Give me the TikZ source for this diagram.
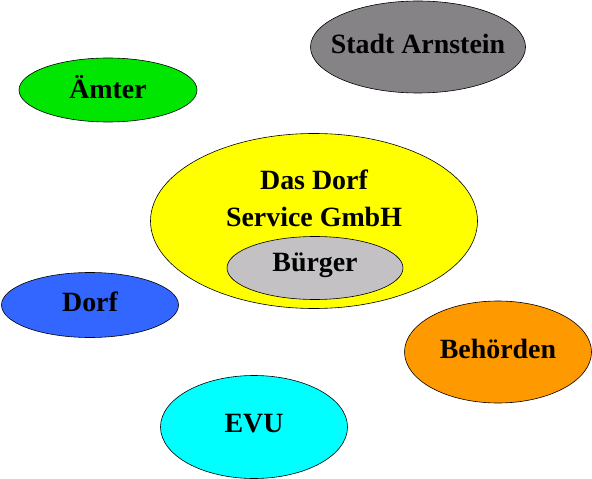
\documentclass[tikz,border=0pt]{standalone}
\usepackage{fontspec}
\setmainfont{Liberation Serif}
\usetikzlibrary{shapes.geometric}
\definecolor{amt}{HTML}{00E600}
\definecolor{stadt}{HTML}{858385}
\definecolor{firma}{HTML}{FFFF00}
\definecolor{buerger}{HTML}{C3C1C4}
\definecolor{dorf}{HTML}{3366FF}
\definecolor{behoerde}{HTML}{FF9900}
\definecolor{evu}{HTML}{00FFFF}

\begin{document}
\begin{tikzpicture}[
  x=1bp, y=-1bp,
  blob/.style={ellipse, draw, line width=0.6pt, inner sep=0pt},
  txt/.style={font=\fontsize{28}{37}\selectfont\bfseries, align=center, inner sep=0pt},
  lbl/.style={txt, yshift=3bp}
]
\useasboundingbox (0,0) rectangle (592,479);
\node[blob, fill=stadt, minimum width=215bp, minimum height=92bp, label={[lbl]center:Stadt Arnstein}] (stadt) at (418,47) {};
\node[blob, fill=amt, minimum width=178bp, minimum height=64bp, label={[lbl]center:Ämter}] (aemter) at (108,90) {};
\node[blob, fill=firma, minimum width=327bp, minimum height=175bp] (gmbh) at (314,221) {};
\node[txt] (gmbhtxt) at (314,198) {Das Dorf\\Service GmbH};
\node[blob, fill=buerger, minimum width=176bp, minimum height=63bp, label={[lbl]center:Bürger}] (buerger) at (315,268) {};
\node[blob, fill=dorf, minimum width=177bp, minimum height=65bp, label={[lbl]center:Dorf}] (dorf) at (90,305) {};
\node[blob, fill=behoerde, minimum width=187bp, minimum height=102bp, label={[lbl]center:Behörden}] (behoerden) at (498,352) {};
\node[blob, fill=evu, minimum width=187bp, minimum height=103bp, label={[lbl]center:EVU}] (evu) at (254,427) {};
\end{tikzpicture}
\end{document}
